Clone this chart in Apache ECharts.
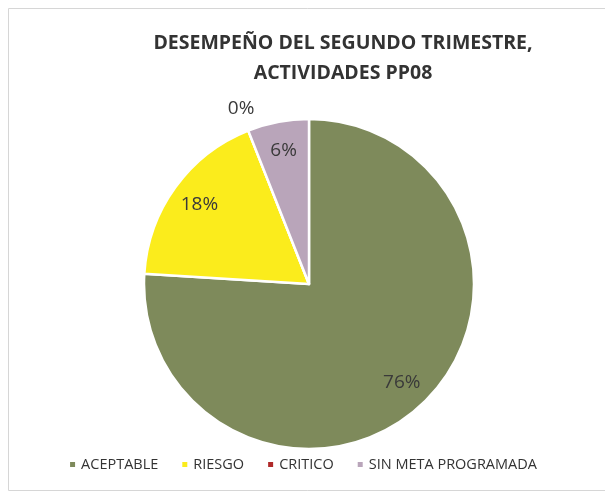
<!DOCTYPE html>
<html>
<head>
<meta charset="utf-8">
<script src="https://cdn.jsdelivr.net/npm/echarts@6/dist/echarts.min.js"></script>
<style>
  html, body { margin: 0; padding: 0; background: #fff; }
  #chart { width: 605px; height: 493px; }
</style>
</head>
<body>
<div id="chart"></div>
<script>
const titleText = 'DESEMPEÑO DEL SEGUNDO TRIMESTRE,\nACTIVIDADES PP08'
const categories = ['ACEPTABLE', 'RIESGO', 'CRITICO', 'SIN META PROGRAMADA']
const values = [76, 18, 0, 6]
const colors = ['#7e8a5b', '#fbec1c', '#b02a2a', '#b9a5ba']

const fontFamily = 'Open Sans'
const center = ['309', '284']

let chart = echarts.init(document.getElementById('chart'))

// main pie, no labels
let pieData = categories.map((name, i) => ({
  name: name,
  value: values[i],
  itemStyle: { color: colors[i] }
}))

// transparent ring on top only to place the labels further out
let labelData = categories.map((name, i) => {
  let item = { name: name, value: values[i] }
  if (values[i] === 0) {
    item.label = { position: 'outside' }
    item.labelLine = { show: false, length: 24, length2: -20 }
  }
  return item
})

let option = {
  backgroundColor: '#fff',
  animation: false,
  title: {
    text: titleText,
    left: 338,
    top: 23,
    textAlign: 'center',
    textStyle: {
      fontFamily: fontFamily,
      fontSize: 19.5,
      fontWeight: 'bold',
      color: '#333',
      lineHeight: 30
    }
  },
  legend: {
    data: categories,
    bottom: 16,
    left: 'center',
    icon: 'rect',
    itemWidth: 7,
    itemHeight: 7,
    itemGap: 22,
    textStyle: {
      fontFamily: fontFamily,
      fontSize: 14.5,
      color: '#333'
    }
  },
  graphic: [{
    type: 'rect',
    shape: { x: 8.5, y: 8.5, width: 610, height: 482 },
    style: { fill: 'none', stroke: '#d6d6d6', lineWidth: 1 },
    silent: true
  }],
  series: [
    {
      name: 'desempeño',
      type: 'pie',
      radius: [0, 165],
      center: center,
      startAngle: 90,
      clockwise: true,
      label: { show: false },
      labelLine: { show: false },
      itemStyle: { borderColor: '#fff', borderWidth: 2.5 },
      data: pieData
    },
    {
      name: 'etiquetas',
      type: 'pie',
      radius: [100, 165],
      center: center,
      startAngle: 90,
      clockwise: true,
      silent: true,
      itemStyle: { color: 'rgba(0,0,0,0)' },
      label: {
        show: true,
        position: 'inside',
        formatter: '{d}%',
        fontFamily: fontFamily,
        fontSize: 19,
        color: '#3a3a3a'
      },
      labelLine: { show: false },
      data: labelData
    }
  ]
}

chart.setOption(option)
window.addEventListener('resize', () => { chart.resize() })
</script>
</body>
</html>
